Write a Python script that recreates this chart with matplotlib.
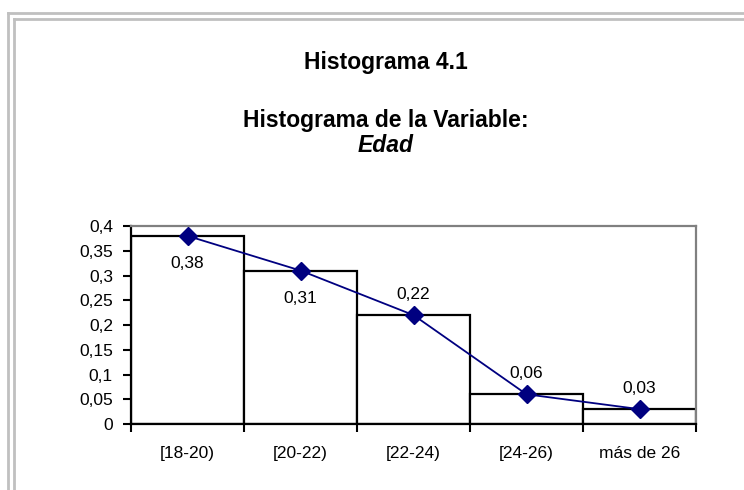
import numpy as np
import matplotlib
matplotlib.use("Agg")
import matplotlib.pyplot as plt
from matplotlib.lines import Line2D

plt.rcParams['font.family'] = ['Liberation Sans', 'DejaVu Sans']

categorias = ['[18-20)', '[20-22)', '[22-24)', '[24-26)', 'más de 26']
frecuencias = [0.38, 0.31, 0.22, 0.06, 0.03]
etiquetas = ['0,38', '0,31', '0,22', '0,06', '0,03']
posicion_etiqueta = ['abajo', 'abajo', 'arriba', 'arriba', 'arriba']
yticks = [0, 0.05, 0.1, 0.15, 0.2, 0.25, 0.3, 0.35, 0.4]
yticklabels = ['0', '0,05', '0,1', '0,15', '0,2', '0,25', '0,3', '0,35', '0,4']

W, H = 744, 490
fig = plt.figure(figsize=(W / 100, H / 100), dpi=100)

# double grey frame (cut on right and bottom)
gris = '#c0c0c0'
for off in (8, 14):
    fig.add_artist(Line2D([off / W, off / W], [-0.05, 1 - (off + 5) / H],
                          color=gris, lw=2, transform=fig.transFigure))
    fig.add_artist(Line2D([off / W, 1.05], [1 - (off + 5) / H, 1 - (off + 5) / H],
                          color=gris, lw=2, transform=fig.transFigure))

left, right, top, bottom = 131, 696, 226, 424
ax = fig.add_axes([left / W, 1 - bottom / H, (right - left) / W, (bottom - top) / H])

x = np.arange(len(categorias))
ax.bar(x, frecuencias, width=1.0, color='white', edgecolor='black', linewidth=1.6, zorder=2)
ax.plot(x, frecuencias, color='#000080', lw=1.3, marker='D', markersize=9.5, zorder=3)

fs = 12.5
for xi, yi, et, pos in zip(x, frecuencias, etiquetas, posicion_etiqueta):
    dy = -20 if pos == 'abajo' else 15
    ax.annotate(et, (xi, yi), xytext=(0, dy), textcoords='offset points',
                ha='center', va='center', fontsize=fs, zorder=4)

ax.set_xlim(-0.5, len(categorias) - 0.5)
ax.set_ylim(0, 0.4)
ax.set_yticks(yticks)
ax.set_yticklabels(yticklabels, fontsize=fs)
ax.tick_params(axis='y', direction='out', length=6, width=1.5, pad=7)

ax.set_xticks(np.arange(len(categorias) + 1) - 0.5)
ax.set_xticklabels([''] * (len(categorias) + 1))
ax.set_xticks(x, minor=True)
ax.set_xticklabels(categorias, minor=True, fontsize=fs)
ax.tick_params(axis='x', which='major', direction='out', length=6, width=1.5)
ax.tick_params(axis='x', which='minor', length=0, pad=16)

ax.spines['left'].set_linewidth(1.6)
ax.spines['bottom'].set_linewidth(1.6)
ax.spines['top'].set_color('#808080')
ax.spines['right'].set_color('#808080')
ax.spines['top'].set_linewidth(1.6)
ax.spines['right'].set_linewidth(1.6)

cx = 386 / W
fig.text(cx, 1 - 63 / H, 'Histograma 4.1', ha='center', va='center', fontsize=16.5, fontweight='bold')
fig.text(cx, 1 - 121 / H, 'Histograma de la Variable:', ha='center', va='center', fontsize=16.5, fontweight='bold')
fig.text(cx, 1 - 146 / H, 'Edad', ha='center', va='center', fontsize=16.5, fontweight='bold', style='italic')

fig.savefig('out.png', dpi=100)
